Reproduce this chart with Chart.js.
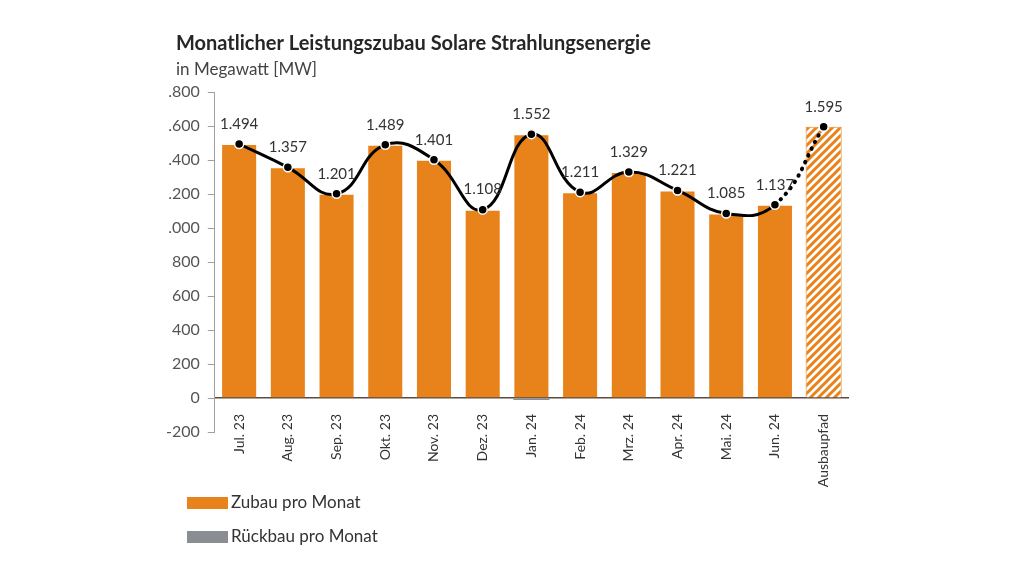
<!DOCTYPE html>
<html>
<head>
<meta charset="utf-8">
<script src="https://cdn.jsdelivr.net/npm/chart.js@4"></script>
<style>
  body { margin: 0; background: #fff; }
</style>
</head>
<body>
<canvas id="MiGrafico" width="1024" height="576"></canvas>
<script>
// data
const monate = ['Jul. 23', 'Aug. 23', 'Sep. 23', 'Okt. 23', 'Nov. 23', 'Dez. 23', 'Jan. 24',
                'Feb. 24', 'Mrz. 24', 'Apr. 24', 'Mai. 24', 'Jun. 24', 'Ausbaupfad'];
const zubau = [1494, 1357, 1201, 1489, 1401, 1108, 1552, 1211, 1329, 1221, 1085, 1137, 1595];
const rueckbau = [0, 0, 0, 0, 0, 0, -12, 0, 0, 0, 0, 0, 0];
const verlauf = [1494, 1357, 1201, 1489, 1401, 1108, 1552, 1211, 1329, 1221, 1085, 1137, 1595];
const yTickLabels = ['-200', '0', '200', '400', '600', '800', '.000', '.200', '.400', '.600', '.800'];

const orange = '#E8821A';
const grau = '#8a8d92';
const fontName = 'Lato, "Open Sans", sans-serif';

// hatched pattern for Ausbaupfad
let pc = document.createElement('canvas');
pc.width = 8; pc.height = 8;
let p = pc.getContext('2d');
p.fillStyle = '#fff';
p.fillRect(0, 0, 8, 8);
p.strokeStyle = orange;
p.lineWidth = 3;
p.beginPath();
p.moveTo(-2, 10); p.lineTo(10, -2);
p.moveTo(-6, 6); p.lineTo(6, -6);
p.moveTo(2, 14); p.lineTo(14, 2);
p.stroke();
let miCanvas = document.getElementById('MiGrafico').getContext('2d');
const hatch = miCanvas.createPattern(pc, 'repeat');

const barColors = zubau.map((v, i) => i === zubau.length - 1 ? hatch : orange);

const extras = {
    id: 'extras',
    afterDraw(chart) {
        const ctx = chart.ctx;
        ctx.save();
        // title
        ctx.fillStyle = '#262626';
        ctx.font = 'bold 20px ' + fontName;
        ctx.textBaseline = 'middle';
        ctx.textAlign = 'left';
        ctx.fillText('Monatlicher Leistungszubau Solare Strahlungsenergie', 176, 44);
        ctx.fillStyle = '#444';
        ctx.font = '17px ' + fontName;
        ctx.fillText('in Megawatt [MW]', 176, 70);

        // value labels, 20px above each point
        const meta = chart.getDatasetMeta(2);
        ctx.font = '15px ' + fontName;
        ctx.fillStyle = '#333';
        ctx.textAlign = 'center';
        meta.data.forEach((pt, i) => {
            ctx.fillText(verlauf[i].toLocaleString('de-DE'), pt.x, pt.y - 20);
        });

        // legend
        ctx.textAlign = 'left';
        ctx.font = '17px ' + fontName;
        ctx.fillStyle = orange;
        ctx.fillRect(187, 497, 41, 12);
        ctx.fillStyle = grau;
        ctx.fillRect(187, 531, 41, 12);
        ctx.fillStyle = '#333';
        ctx.fillText('Zubau pro Monat', 231, 503);
        ctx.fillText('Rückbau pro Monat', 231, 537);
        ctx.restore();
    }
};

const myChart = new Chart(miCanvas, {
    type: 'bar',
    data: {
        labels: monate,
        datasets: [
            {
                label: 'Zubau pro Monat',
                data: zubau,
                backgroundColor: barColors,
                borderColor: zubau.map((v, i) => i === zubau.length - 1 ? orange : 'rgba(0,0,0,0)'),
                borderWidth: 1,
                stack: 'bars',
                categoryPercentage: 1,
                barPercentage: 0.74,
                order: 2
            },
            {
                label: 'Rückbau pro Monat',
                data: rueckbau,
                backgroundColor: grau,
                stack: 'bars',
                categoryPercentage: 1,
                barPercentage: 0.74,
                order: 2
            },
            {
                type: 'line',
                label: 'Verlauf',
                data: verlauf,
                stack: 'line',
                borderColor: '#000',
                borderWidth: 3,
                tension: 0.45,
                borderCapStyle: 'round',
                pointRadius: 4.5,
                pointBackgroundColor: '#000',
                pointBorderColor: '#fff',
                pointBorderWidth: 1.5,
                segment: {
                    borderDash: c => c.p1DataIndex === verlauf.length - 1 ? [0.5, 7] : undefined,
                    borderWidth: c => c.p1DataIndex === verlauf.length - 1 ? 4 : 3
                },
                order: 0
            }
        ]
    },
    options: {
        responsive: false,
        animation: false,
        layout: {
            padding: { left: 158, right: 176, top: 92, bottom: 144 }
        },
        plugins: {
            legend: { display: false },
            tooltip: { enabled: false }
        },
        scales: {
            x: {
                stacked: true,
                position: { y: 0 },
                grid: { display: false },
                border: { color: '#5a4a40', width: 1.5 },
                ticks: {
                    minRotation: 90,
                    maxRotation: 90,
                    padding: 8,
                    color: '#333',
                    font: { family: fontName, size: 14 }
                }
            },
            y: {
                stacked: true,
                min: -200,
                max: 1800,
                ticks: {
                    stepSize: 200,
                    padding: 8,
                    color: '#555',
                    font: { family: fontName, size: 16 },
                    callback: (v, i) => yTickLabels[i]
                },
                grid: { drawOnChartArea: false, tickLength: 7, color: '#a0a0a0' },
                border: { color: '#a0a0a0' }
            }
        }
    },
    plugins: [extras]
});
</script>
</body>
</html>
